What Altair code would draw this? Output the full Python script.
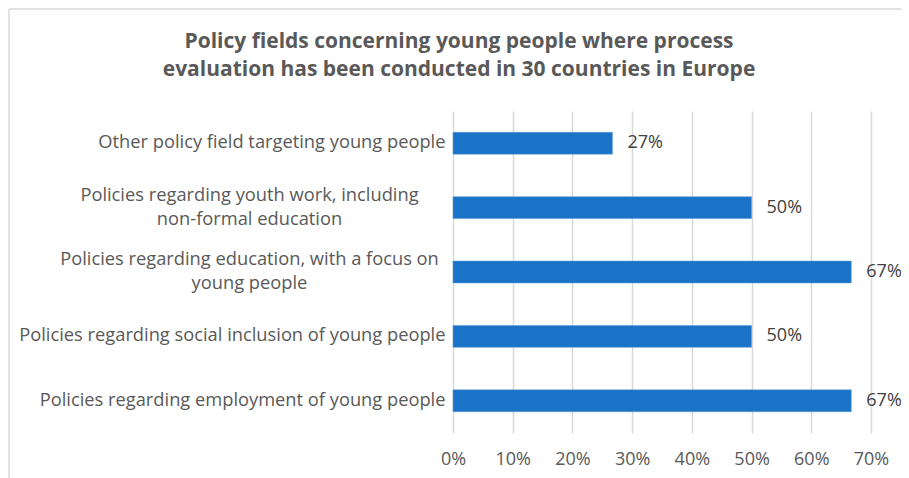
import altair as alt
import pandas as pd

categories = [
    "Other policy field targeting young people",
    "Policies regarding youth work, including\nnon-formal education",
    "Policies regarding education, with a focus on\nyoung people",
    "Policies regarding social inclusion of young people",
    "Policies regarding employment of young people",
]
shares = [0.267, 0.50, 0.667, 0.50, 0.667]
labels = ["27%", "50%", "67%", "50%", "67%"]
x_ticks = [0, 0.1, 0.2, 0.3, 0.4, 0.5, 0.6, 0.7]
title_lines = [
    "Policy fields concerning young people where process",
    "evaluation has been conducted in 30 countries in Europe",
]

df = pd.DataFrame({"field": categories, "share": shares, "label": labels})

multi_test = "indexof(datum.value, '\\n') >= 0"

y_enc = alt.Y(
    "field:N",
    sort=categories,
    title=None,
    scale=alt.Scale(paddingInner=0.66, paddingOuter=0.33),
    axis=alt.Axis(
        labelExpr="split(datum.value, '\\n')",
        labelAlign={"condition": {"test": multi_test, "value": "center"}, "value": "right"},
        labelPadding={"condition": {"test": multi_test, "value": 204}, "value": 8},
        labelOffset={"condition": {"test": multi_test, "value": -12}, "value": 0},
        labelFont="Open Sans",
        labelFontSize=18.3,
        labelColor="#595959",
        labelLineHeight=24,
        labelLimit=600,
        ticks=False,
        domain=False,
        grid=False,
    ),
)

x_enc = alt.X(
    "share:Q",
    title=None,
    scale=alt.Scale(domain=[0, 0.7], nice=False),
    axis=alt.Axis(
        values=x_ticks,
        format=".0%",
        grid=True,
        gridColor="#d9d9d9",
        gridWidth=1.5,
        ticks=False,
        domain=False,
        labelFlush=False,
        labelPadding=17,
        labelFont="Open Sans",
        labelFontSize=18,
        labelColor="#595959",
    ),
)

base = alt.Chart(df)

bars = base.mark_bar(color="#1b73c8", stroke="#5b9bd8", strokeWidth=0.5).encode(y=y_enc, x=x_enc)

text = base.mark_text(
    align="left", baseline="middle", dx=15, font="Open Sans", fontSize=18, color="#404040"
).encode(y=alt.Y("field:N", sort=categories), x=alt.X("share:Q"), text="label:N")

frame_data = alt.Data(values=[{"k": 1}])
left_border = alt.Chart(frame_data).mark_rule(color="#d9d9d9", strokeWidth=1.5).encode(
    x=alt.value(-444), y=alt.value(-102), y2=alt.value(380)
)
top_border = alt.Chart(frame_data).mark_rule(color="#d9d9d9", strokeWidth=1.5).encode(
    x=alt.value(-444), x2=alt.value(460), y=alt.value(-102)
)

chart = (
    alt.layer(left_border, top_border, bars, text)
    .properties(
        width=418,
        height=322,
        autosize=alt.AutoSizeParams(type="none"),
        padding={"left": 445, "top": 103, "right": 30, "bottom": 45},
        title=alt.TitleParams(
            text=title_lines,
            font="Open Sans",
            fontSize=21,
            fontWeight="bold",
            color="#595959",
            anchor="middle",
            frame="group",
            dx=-203,
            offset=-72,
            lineHeight=28,
        ),
    )
    .configure_view(stroke=None)
)

chart.save("out.html", embed_options={"renderer": "svg", "actions": False})
